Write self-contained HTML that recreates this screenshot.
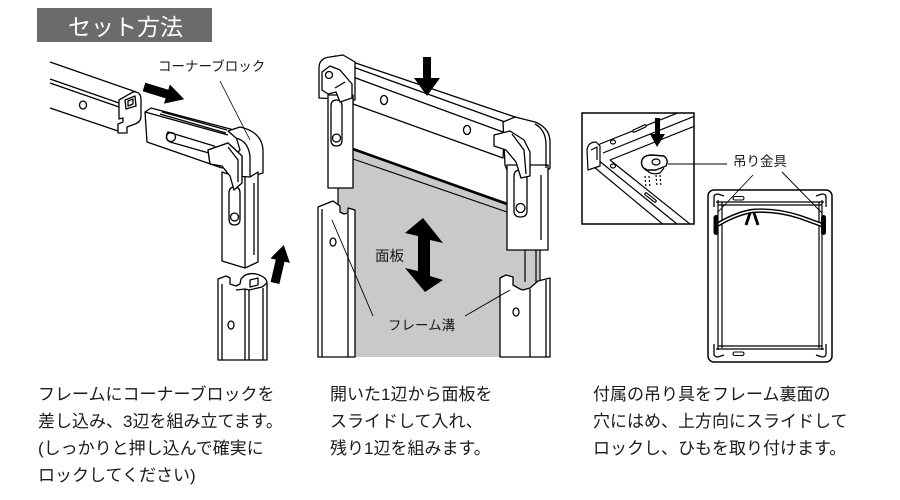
<!DOCTYPE html>
<html><head><meta charset="utf-8"><style>
html,body{margin:0;padding:0;background:#fff;}
svg{display:block;}
text{font-family:"Liberation Sans","Noto Sans CJK JP",sans-serif;fill:#1a1a1a;}
</style></head><body>
<svg width="900" height="500" viewBox="0 0 900 500" xmlns="http://www.w3.org/2000/svg">
<!-- Title -->
<rect x="37" y="8" width="175" height="34" fill="#6b6b6b"/>
<text x="68" y="35" font-size="23" style="fill:#fff">セット方法</text>

<!-- ========== PANEL 1 ========== -->
<g stroke="#000" stroke-width="1.3" fill="none" stroke-linejoin="round">
  <!-- left rail -->
  <path d="M50,62 L136,92"/>
  <path d="M50,79 L119,103"/>
  <path d="M50,83 L119,107"/>
  <path d="M50,108 L118,131"/>
  <path d="M119,100 L133,92 Q141,91 141,100 L141,116 Q141,122 135,124 L127,127 L127,133 L118,133 L118,124 L123,122 L123,118 L119,119 Z" fill="#fff"/>
  <path d="M125,100 L135,96 L136,106 L126,109 Z"/>
  <path d="M128,101 L133,99 L133,104 L128,106 Z"/>
  <ellipse cx="83" cy="105" rx="3.5" ry="4"/>

  <!-- horizontal arm of corner piece -->
  <path d="M145,112 L151,108 L234,130 L240,150 L222,168 L147,142 Z" fill="#fff"/>
  <path d="M145,112 L228,135"/>
  <path d="M162,112 L227,130"/>
  <path d="M160,114 L226,133"/>
  <path d="M168,132 L214,146 Q220,150 216,155 L170,142 Q164,139 168,132 Z"/>
  <circle cx="171" cy="137" r="4.5"/>
  <!-- corner block -->
  <path d="M228,131 L240,127 Q262,132 263,150 L263,173 L250,177 L250,156 Q248,141 236,138 Z" fill="#fff"/>
  <!-- latch -->
  <path d="M208,150 L228,143 L242,156 L242,183 L234,190 L230,176 L222,166 L210,164 Z" fill="#fff"/>
  <path d="M228,147 L238,160 L238,182"/>
  <path d="M216,156 L226,152"/>
  <!-- vertical arm -->
  <path d="M222,172 L234,176 L250,177 L258,172 L258,262 L245,268 L222,261 Z" fill="#fff"/>
  <path d="M245,177 L245,268"/>
  <path d="M254,183 L254,255"/>
  <path d="M229,193 Q229,187 234.5,187 Q240,187 240,193 L240,219 Q240,225 234.5,225 Q229,225 229,219 Z"/>
  <circle cx="234.5" cy="217" r="4"/>
  <path d="M208,150 L228,143 L242,156 L242,183 L234,190 L230,176 L222,166 L210,164 Z" fill="#fff"/>
  <path d="M228,147 L238,160 L238,182"/>

  <!-- lower rail -->
  <path d="M218,279 L226,276 L230,278 L230,284 L236,286 L240,284 L241,279 Q246,272 256,274 Q267,277 267,283 L267,360 L218,360 Z" fill="#fff"/>
  <path d="M222,284 L222,360"/>
  <path d="M236,290 L245,289 L249,290 L262,287 L267,283"/>
  <path d="M245,289 L245,360"/>
  <path d="M249,290 L249,360"/>
  <path d="M263,288 L263,360"/>
  <path d="M250,280 L258,278 L258,285 L250,287 Z"/>
  <ellipse cx="231" cy="325" rx="3" ry="4"/>
  <!-- label leader -->
  <path d="M220,81 L250,140" stroke-width="0.8"/>
</g>
<!-- arrows panel 1 -->
<polygon transform="translate(144,87) rotate(17)" points="0,-4.5 24,-4.5 24,-10 42,0 24,10 24,4.5 0,4.5" fill="#000"/>
<polygon transform="translate(275,283) rotate(13)" points="-4.5,0 -4.5,-23 -10,-23 0,-39 10,-23 4.5,-23 4.5,0" fill="#000"/>
<text x="158" y="71" font-size="13.5">コーナーブロック</text>

<!-- ========== PANEL 2 ========== -->
<polygon points="338,145 540,213 540,357 338,357" fill="#c9c9c9"/>
<g stroke="#000" fill="none" stroke-linejoin="round">
  <path d="M353,149 L507,204" stroke-width="2.6"/>
  <path d="M353,159 L507,212" stroke-width="1.1"/>
  <path d="M338,186 L338,206" stroke-width="1.2"/>
  <path d="M525,248 L525,282 M536,248 L536,282 M540,248 L540,282" stroke-width="1.2"/>
</g>
<g stroke="#000" stroke-width="1.3" fill="none" stroke-linejoin="round">
  <!-- left lower rail -->
  <path d="M318,207 L333,201 L340,206 L340,212 L344,214 L348,213 L348,208 L355,210 L355,357 L318,357 Z" fill="#fff"/>
  <path d="M322,209 L322,357"/>
  <path d="M348,214 L348,357"/>
  <ellipse cx="333" cy="242" rx="3" ry="4"/>
  <!-- right lower rail -->
  <path d="M500,278 L506,275 L513,277 L513,285 L520,289 L523,290 L530,288 L538,281 L550,278 L550,357 L500,357 Z" fill="#fff"/>
  <path d="M530,289 L530,357"/>
  <path d="M546,280 L546,357"/>
  <ellipse cx="516" cy="312" rx="3" ry="4"/>

  <!-- top bar -->
  <path d="M335,56 L518,118 L505,123 L503,158 L353,104 L353,62 Z" fill="#fff"/>
  <path d="M353,67 L505,122"/>
  <path d="M353,77 L503,132"/>
  <ellipse cx="384" cy="100" rx="3.5" ry="4.5"/>
  <ellipse cx="467" cy="130" rx="3.5" ry="4.5"/>
  <!-- left block -->
  <path d="M319,98 L319,68 Q319,58 330,57 L343,55 L355,62 L355,100 Z" fill="#fff"/>
  <path d="M328,95 L353,95 L353,188 L328,188 Z" fill="#fff"/>
  <path d="M331,106 Q331,100 336.5,100 Q342,100 342,106 L342,140 Q342,146 336.5,146 Q331,146 331,140 Z"/>
  <circle cx="336.5" cy="138" r="4"/>
  <path d="M322,72 L330,66 L340,70 L352,84 L352,98 L340,102 L336,92 L328,94 L322,90 Z" fill="#fff"/>
  <circle cx="329" cy="75" r="3.5"/>
  <path d="M335,88 L345,82"/>
  <!-- right block -->
  <path d="M503,122 L515,117 L535,122 Q550,128 550,142 L550,168 L548,170 L507,170 L505,165 Z" fill="#fff"/>
  <path d="M507,165 L548,165 L548,250 L507,250 Z" fill="#fff"/>
  <path d="M535,124 Q546,130 546,145 L546,168"/>
  <path d="M541,175 L541,240"/>
  <path d="M514,176 Q514,170 520.5,170 Q527,170 527,176 L527,211 Q527,217 520.5,217 Q514,217 514,211 Z"/>
  <circle cx="520.5" cy="208" r="4.5"/>
  <path d="M494,135 L510,131 L524,140 L530,152 L530,176 L521,178 L516,162 L506,150 L494,146 Z" fill="#fff"/>
  <path d="M512,134 L524,150 L526,174"/>
  <!-- leaders -->
  <path d="M332,220 L373,316" stroke-width="0.9"/>
  <path d="M465,316 L510,290" stroke-width="0.9"/>
</g>
<!-- down arrow panel 2 -->
<polygon points="423,57 431,57 431,78 440,78 427,96 414,78 423,78" fill="#000"/>
<!-- double arrow -->
<polygon points="423,218 443,243 430,240 430,276 443,280 425,292 405,268 418,271 418,236 405,233" fill="#000"/>
<text x="375" y="261" font-size="14.5">面板</text>
<text x="388" y="330" font-size="13.5">フレーム溝</text>

<!-- ========== PANEL 3 ========== -->
<defs><clipPath id="ic"><rect x="582" y="113" width="112" height="111"/></clipPath></defs>
<rect x="582" y="113" width="112" height="111" fill="#fff" stroke="#000" stroke-width="1.5"/>
<g clip-path="url(#ic)" stroke="#000" stroke-width="1.2" fill="none" stroke-linejoin="round">
  <path d="M595,146 L680,112"/>
  <path d="M603,153 L700,114"/>
  <path d="M610,160 L700,124"/>
  <path d="M588,162 L665,226"/>
  <path d="M598,160 L682,228"/>
  <path d="M610,160 L700,232"/>
  <path d="M587,150 Q588,142 596,142 L600,146 L600,166 L588,170 Z" fill="#fff"/>
  <path d="M591,150 L597,147 L597,160"/>
  <ellipse cx="613" cy="142" rx="2.5" ry="2"/>
  <ellipse cx="613" cy="166" rx="2.5" ry="2"/>
  <path d="M634,131 L645,126" stroke-width="3.5" stroke-linecap="round"/>
  <path d="M634,131 L645,126" stroke-width="1.2" stroke="#fff" stroke-linecap="round"/>
  <path d="M646,194 L655,201" stroke-width="3.5" stroke-linecap="round"/>
  <path d="M646,194 L655,201" stroke-width="1.2" stroke="#fff" stroke-linecap="round"/>
  <!-- hanger -->
  <path d="M642,160 Q644,155 652,155 L664,156 Q669,160 666,166 L656,170 L646,170 Q640,166 642,160 Z" fill="#fff" stroke-width="1.4"/>
  <ellipse cx="656" cy="162" rx="4" ry="3"/>
  <path d="M645,168 Q650,176 660,173 L664,168" stroke-width="1.2"/>
  <path d="M645,176 L646,188 M649,176 L650,188 M656,175 L657,187 M660,175 L661,187" stroke-width="1.2" stroke-dasharray="2,2"/>
</g>
<polygon points="655,118 660,118 660,134 665,134 657,147 650,134 655,134" fill="#000"/>
<g stroke="#000" fill="none">
  <path d="M668,164 L727,164" stroke-width="0.9"/>
  <path d="M753,175 L718,212" stroke-width="0.9"/>
  <path d="M782,172 L822,213" stroke-width="0.9"/>
  <!-- big frame -->
  <rect x="708" y="190" width="124" height="172" rx="6" stroke-width="1.5"/>
  <path d="M718,200 L718,350 M722,202 L722,348 M819,202 L819,348 M822,200 L822,350" stroke-width="1.2"/>
  <path d="M716,202 L824,202 M718,205 L822,205 M718,346 L822,346 M716,349 L824,349" stroke-width="1.2"/>
  <path d="M714,207 L714,197 Q714,194 718,194 L724,196" stroke-width="1.3"/>
  <path d="M826,207 L826,197 Q826,194 822,194 L816,196" stroke-width="1.3"/>
  <path d="M714,344 L714,354 Q714,357 718,357 L724,355" stroke-width="1.3"/>
  <path d="M826,344 L826,354 Q826,357 822,357 L816,355" stroke-width="1.3"/>
  <rect x="733" y="196.5" width="11" height="3.5" rx="1.7" stroke-width="1.1"/>
  <rect x="733" y="352" width="11" height="3.5" rx="1.7" stroke-width="1.1"/>
  <!-- wire -->
  <path d="M717,225 Q735,214 752,211 Q775,209 800,217 L822,225" stroke-width="4.5"/>
  <path d="M717,225 Q735,214 752,211 Q775,209 800,217 L822,225" stroke-width="1.6" stroke="#fff"/>
  <path d="M750,213 L746,225 M754,213 L758,225" stroke-width="2.8"/>
</g>
<rect x="713.5" y="215" width="5" height="20" rx="2.5" fill="#000"/>
<rect x="821" y="215" width="5" height="20" rx="2.5" fill="#000"/>
<text x="733" y="166" font-size="13.5">吊り金具</text>

<!-- ========== TEXT ========== -->
<g font-size="17">
  <text x="38" y="400">フレームにコーナーブロックを</text>
  <text x="38" y="427">差し込み、3辺を組み立てます。</text>
  <text x="38" y="454">(しっかりと押し込んで確実に</text>
  <text x="38" y="481">ロックしてください)</text>
  <text x="330" y="400">開いた1辺から面板を</text>
  <text x="330" y="427">スライドして入れ、</text>
  <text x="330" y="454">残り1辺を組みます。</text>
  <text x="593" y="400">付属の吊り具をフレーム裏面の</text>
  <text x="593" y="427">穴にはめ、上方向にスライドして</text>
  <text x="593" y="454">ロックし、ひもを取り付けます。</text>
</g>
</svg>
</body></html>
